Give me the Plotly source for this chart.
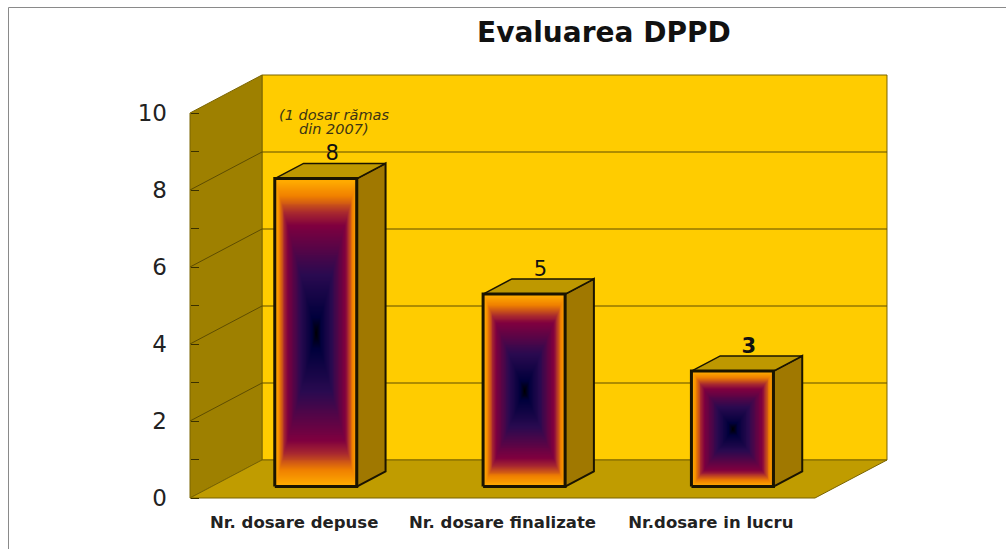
import numpy as np
import plotly.graph_objects as go

categories = ["Nr. dosare depuse", "Nr. dosare finalizate", "Nr.dosare in lucru"]
values = [8, 5, 3]
value_labels = ["8", "5", "<b>3</b>"]
y_ticks = list(range(0, 11))
y_tick_labels = ["0", "", "2", "", "4", "", "6", "", "8", "", "10"]
grid_values = [2, 4, 6, 8]
title_text = "<b>Evaluarea DPPD</b>"
note_lines = ["<i>(1 dosar rămas</i>", "<i>din 2007)</i>"]

W, H = 1006, 549
PX_X = 208.33   # px per category
PX_Y = 38.5     # px per value unit
X0_PX, Y0_PX = 190, 498
DEPTH_X = 72 / PX_X   # full floor depth in x data units
DEPTH_Y = 38 / PX_Y   # full floor depth in y data units
X_RANGE = [-0.5 - X0_PX / PX_X, -0.5 + (W - X0_PX) / PX_X]
Y_RANGE = [-(H - Y0_PX) / PX_Y, Y0_PX / PX_Y]
XL, XR, YMAX = -0.5, 2.5, 10

BAR_W = 82 / PX_X
BAR_START, BAR_END = 0.30, 0.70   # fraction of floor depth

WALL_BACK = "#FFCC00"
WALL_LEFT = "#9E8000"
FLOOR = "#C09C00"
EDGE = "#7A6400"
GRID = "#5E4C00"
SIDE = "#A07800"
TOP = "#BE9800"
GRAD = [[0.0, "#000000"], [0.10, "#00003C"], [0.38, "#2A0A50"], [0.70, "#80003F"],
        [0.78, "#A82830"], [0.89, "#F08000"], [0.98, "#FFAA00"], [1.0, "#FFAA00"]]

fig = go.Figure()


def d(x, y, f):
    """Shift a front-plane point back by fraction f of the floor depth."""
    return x + f * DEPTH_X, y + f * DEPTH_Y


def poly(pts, fill, line, width=1.0, axes="x", close=True):
    xs = [p[0] for p in pts]
    ys = [p[1] for p in pts]
    if close:
        xs.append(xs[0])
        ys.append(ys[0])
    fig.add_trace(go.Scatter(
        x=xs, y=ys, mode="lines", fill="toself" if fill else None, fillcolor=fill,
        line=dict(color=line, width=width), hoverinfo="skip", showlegend=False,
        xaxis=axes, yaxis=axes.replace("x", "y")))


# Walls and floor
poly([d(XL, 0, 1), d(XR, 0, 1), d(XR, YMAX, 1), d(XL, YMAX, 1)], WALL_BACK, EDGE)
poly([(XL, 0), d(XL, 0, 1), d(XL, YMAX, 1), (XL, YMAX)], WALL_LEFT, EDGE)
poly([(XL, 0), (XR, 0), d(XR, 0, 1), d(XL, 0, 1)], FLOOR, EDGE)
for g in grid_values:
    poly([(XL, g), d(XL, g, 1), d(XR, g, 1)], None, GRID, close=False)

# Bars
for i, v in enumerate(values):
    x0, y0 = d(i - BAR_W / 2, 0, BAR_START)
    x1, y1 = d(i + BAR_W / 2, v, BAR_START)
    nx, ny = 101, max(41, int(v * 40) + 1)
    xs = np.linspace(x0, x1, nx)
    ys = np.linspace(y0, y1, ny)
    u = np.abs(np.linspace(-1, 1, nx))
    w = np.abs(np.linspace(-1, 1, ny))
    z = np.maximum.outer(w, u)
    fig.add_trace(go.Heatmap(x=xs, y=ys, z=z, zmin=0, zmax=1, colorscale=GRAD, showscale=False,
                             zsmooth="best", hoverinfo="skip", xaxis="x2", yaxis="y2"))
    bx1, by1 = d(i + BAR_W / 2, v, BAR_END)
    bx0, by0 = d(i - BAR_W / 2, v, BAR_END)
    _, by_low = d(i, 0, BAR_END)
    poly([(x1, y0), (bx1, by_low), (bx1, by1), (x1, y1)], SIDE, "#1A1400", 2, "x2")
    poly([(x0, y1), (x1, y1), (bx1, by1), (bx0, by0)], TOP, "#1A1400", 1.5, "x2")
    poly([(x0, y0), (x1, y0), (x1, y1), (x0, y1)], None, "#1A1400", 3, "x2")

# Value labels
LABEL_DX = 2 / PX_X
LABEL_DY = -2 / PX_Y
lx = [d(i, v, (BAR_START + BAR_END) / 2)[0] + LABEL_DX for i, v in enumerate(values)]
ly = [d(i, v, BAR_END)[1] + LABEL_DY for i, v in enumerate(values)]
fig.add_trace(go.Scatter(
    x=lx, y=ly, mode="text", text=value_labels,
    textposition="top center", textfont=dict(family="DejaVu Sans", size=21, color="#111111"),
    hoverinfo="skip", showlegend=False, xaxis="x2", yaxis="y2"))

fig.update_layout(
    width=W, height=H, margin=dict(l=0, r=0, t=0, b=0),
    paper_bgcolor="white", plot_bgcolor="white", showlegend=False,
    xaxis=dict(range=X_RANGE, domain=[0, 1], anchor="free", position=(H - Y0_PX) / H,
               tickvals=[0, 1, 2], ticktext=[f"<b>{c}</b>" for c in categories],
               ticks="", showgrid=False, zeroline=False, showline=False, ticklabelstandoff=12,
               tickfont=dict(family="DejaVu Sans", size=16.5, color="#222222")),
    yaxis=dict(range=Y_RANGE, domain=[0, 1], anchor="free", position=X0_PX / W,
               tickvals=y_ticks, ticktext=y_tick_labels, ticks="inside", ticklen=8, tickwidth=1,
               tickcolor="#3A3000", showgrid=False, zeroline=False, showline=False,
               ticklabelstandoff=23,
               tickfont=dict(family="DejaVu Sans", size=23, color="#222222")),
    xaxis2=dict(overlaying="x", matches="x", visible=False, anchor="y2"),
    yaxis2=dict(overlaying="y", matches="y", visible=False, anchor="x2"),
    shapes=[dict(type="rect", xref="paper", yref="paper", x0=8.5 / W, x1=1.02, y0=-0.02,
                 y1=(H - 7.5) / H, line=dict(color="#8A8A8A", width=1), layer="below")],
    annotations=[
        dict(text=title_text, xref="paper", yref="paper", x=604 / W, y=(H - 33) / H, showarrow=False,
             xanchor="center", yanchor="middle",
             font=dict(family="DejaVu Sans", size=28, color="#111111")),
        dict(text=note_lines[0], xref="paper", yref="paper", x=334 / W, y=(H - 115) / H, showarrow=False,
             xanchor="center", yanchor="middle",
             font=dict(family="DejaVu Sans", size=14.5, color="#3C3414")),
        dict(text=note_lines[1], xref="paper", yref="paper", x=334 / W, y=(H - 129) / H, showarrow=False,
             xanchor="center", yanchor="middle",
             font=dict(family="DejaVu Sans", size=14.5, color="#3C3414")),
    ],
)

fig.write_html("out.html", post_script="document.body.style.margin='0';",
               config={"displayModeBar": False})
